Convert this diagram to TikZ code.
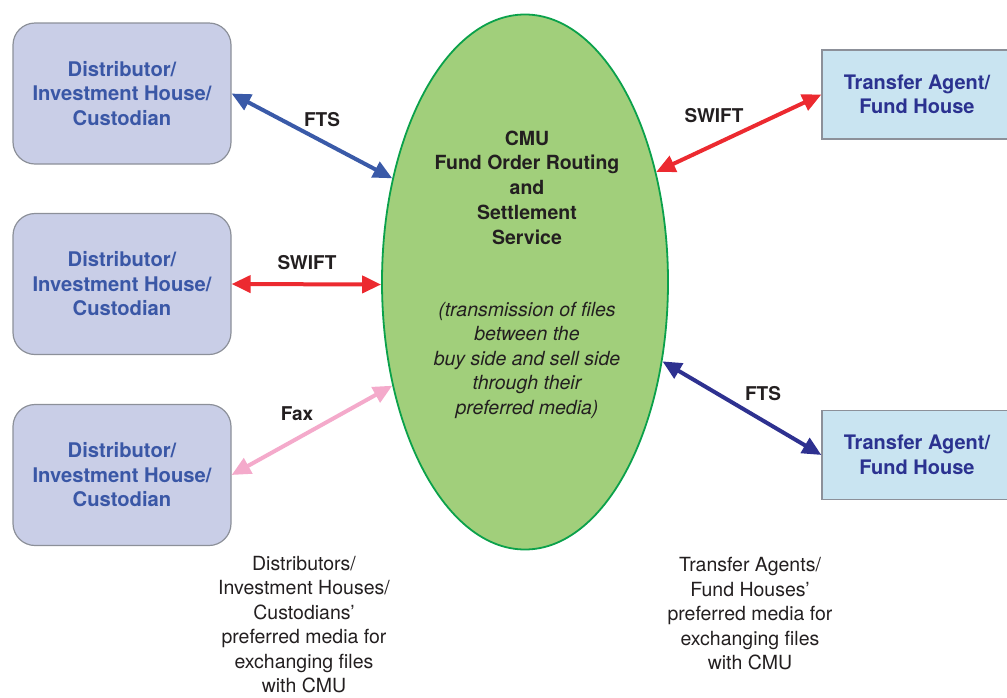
\documentclass[tikz,border=0pt]{standalone}
\usepackage{fontspec}
\setmainfont{TeX Gyre Heros}
\usetikzlibrary{arrows.meta,shapes.geometric}
\definecolor{lbfill}{HTML}{C9CEE7}
\definecolor{lbtext}{HTML}{3A57A6}
\definecolor{rbfill}{HTML}{C9E4F1}
\definecolor{rbtext}{HTML}{2B3290}
\definecolor{boxdraw}{HTML}{8C9099}
\definecolor{ellfill}{HTML}{A1CF7B}
\definecolor{elldraw}{HTML}{0BA14B}
\definecolor{ftsblue}{HTML}{3A5AA8}
\definecolor{swiftred}{HTML}{EC2A30}
\definecolor{faxpink}{HTML}{F4AACB}
\definecolor{ftsnavy}{HTML}{2E3190}
\definecolor{labeltext}{HTML}{231F20}
\tikzset{
  txt/.style={font=\fontsize{19.5}{24.5}\selectfont, align=center},
  distbox/.style={txt, draw=boxdraw, line width=1.2pt, fill=lbfill, rounded corners=22pt,
    minimum width=218pt, minimum height=141pt, inner sep=0pt, text=lbtext, font=\bfseries\fontsize{20.2}{24.5}\selectfont},
  tabox/.style={txt, draw=boxdraw, line width=1.2pt, fill=rbfill,
    minimum width=190pt, minimum height=89pt, inner sep=0pt, text=rbtext, font=\bfseries\fontsize{20}{24.5}\selectfont},
  link/.style={line width=4pt, {Triangle[length=19pt,width=17pt]}-{Triangle[length=19pt,width=17pt]}},
  medium/.style={font=\bfseries\fontsize{19}{23}\selectfont, text=labeltext},
}
\begin{document}
\begin{tikzpicture}[x=1pt,y=-1pt]
\useasboundingbox (0,0) rectangle (1007,697);
% central ellipse
\node[draw=elldraw, line width=1.8pt, fill=ellfill, ellipse, minimum width=286pt, minimum height=535pt, inner sep=0pt] (cmu) at (525,282) {};
\node[txt, font=\bfseries\fontsize{19.5}{24.8}\selectfont, text=labeltext] (title) at (527,187.5) {CMU\\Fund Order Routing\\and\\Settlement\\Service};
\node[txt, font=\itshape\fontsize{19.5}{24.5}\selectfont, text=labeltext] (desc) at (527,360) {(transmission of files\\between the\\buy side and sell side\\through their\\preferred media)};
% left boxes
\node[distbox] (d1) at (122,93.5) {Distributor/\\Investment House/\\Custodian};
\node[distbox] (d2) at (122,284) {Distributor/\\Investment House/\\Custodian};
\node[distbox] (d3) at (122,475) {Distributor/\\Investment House/\\Custodian};
% right boxes
\node[tabox] (t1) at (917,94.5) {Transfer Agent/\\Fund House};
\node[tabox] (t2) at (917,455) {Transfer Agent/\\Fund House};
% connectors
\draw[link, ftsblue] (d1.east) -- (cmu.142);
\draw[link, swiftred] (d2.east) -- (cmu.181);
\draw[link, faxpink] (d3.east) -- (cmu.218);
\draw[link, swiftred] (cmu.40) -- (t1.west);
\draw[link, ftsnavy] (cmu.-30) -- (t2.west);
% connector labels
\node[medium] (l1) at (322,120) {FTS};
\node[medium] (l2) at (307,263) {SWIFT};
\node[medium] (l3) at (297,414) {Fax};
\node[medium] (l4) at (714,116) {SWIFT};
\node[medium] (l5) at (763,394) {FTS};
% bottom notes
\node[txt, text=labeltext] (n1) at (304,624.5) {Distributors/\\Investment Houses/\\Custodians’\\preferred media for\\exchanging files\\with CMU};
\node[txt, text=labeltext] (n2) at (750,614) {Transfer Agents/\\Fund Houses’\\preferred media for\\exchanging files\\with CMU};
\end{tikzpicture}
\end{document}
